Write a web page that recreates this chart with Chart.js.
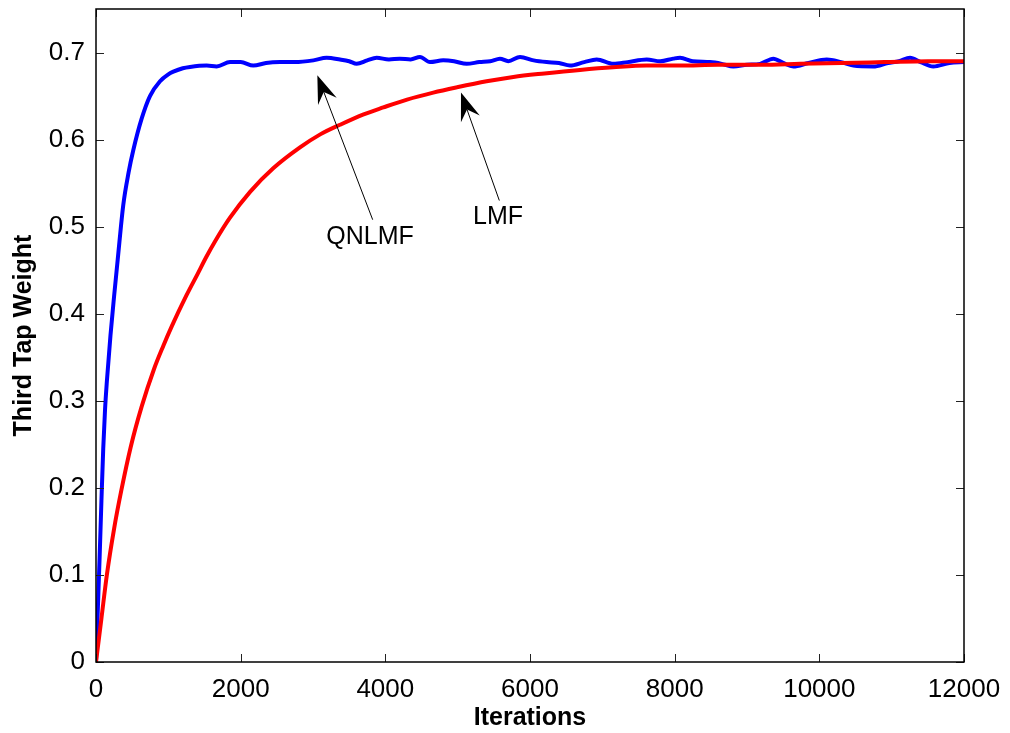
<!DOCTYPE html>
<html>
<head>
<meta charset="utf-8">
<title>Third Tap Weight</title>
<script src="https://cdn.jsdelivr.net/npm/chart.js@4/dist/chart.umd.min.js"></script>
<style>
    html, body {
        margin: 0;
        padding: 0;
        background: #ffffff;
    }
    #wrap {
        width: 1010px;
        height: 733px;
    }
</style>
</head>
<body>
<div id="wrap">
    <canvas id="tapChart" width="1010" height="733"></canvas>
</div>
<script>

// QNLMF (blue)
const qnlmfIter = [
    0, 25, 50, 75, 100, 125, 150, 200, 250, 300, 377, 450, 516, 631, 746, 885,
    1000, 1069, 1200, 1300, 1530, 1668, 1853, 2000, 2175, 2350, 2544, 2750,
    3005, 3189, 3373, 3500, 3604, 3750, 3880, 4050, 4200, 4350, 4479, 4617,
    4800, 4950, 5125, 5300, 5450, 5585, 5700, 5862, 6050, 6231, 6400, 6553,
    6750, 6922, 7152, 7350, 7613, 7800, 7981, 8074, 8250, 8489, 8650, 8812,
    9000, 9180, 9364, 9500, 9640, 9850, 10102, 10300, 10470, 10747, 10950,
    11100, 11254, 11400, 11576, 11800, 12000
];

const qnlmfWeight = [
    0, 0.06, 0.12, 0.185, 0.245, 0.29, 0.322, 0.375, 0.42, 0.462, 0.525, 0.562, 0.588, 0.624, 0.650, 0.667,
    0.675, 0.678, 0.682, 0.6835, 0.685, 0.684, 0.689, 0.689, 0.685, 0.688, 0.689, 0.689,
    0.691, 0.694, 0.692, 0.690, 0.687, 0.691, 0.694, 0.692, 0.693, 0.692, 0.695, 0.689,
    0.691, 0.690, 0.687, 0.689, 0.690, 0.693, 0.690, 0.695, 0.691, 0.689, 0.688, 0.685,
    0.689, 0.692, 0.687, 0.689, 0.692, 0.690, 0.693, 0.694, 0.690, 0.689, 0.687, 0.684,
    0.686, 0.687, 0.693, 0.688, 0.684, 0.688, 0.692, 0.689, 0.685, 0.684, 0.688,
    0.690, 0.694, 0.689, 0.684, 0.688, 0.689
];

// LMF (red)
const lmfIter = [
    0, 75, 150, 250, 350, 480, 630, 800, 930, 1050, 1250, 1400, 1530, 1645,
    1850, 2130, 2450, 2820, 3100, 3373, 3700, 3972, 4300, 4663, 4986, 5400,
    5770, 6200, 6691, 7150, 7613, 8074, 8600, 9200, 9733, 10300, 10900, 11500, 12000
];

const lmfWeight = [
    0, 0.05, 0.10, 0.153, 0.197, 0.247, 0.293, 0.336, 0.363, 0.386, 0.421, 0.445, 0.466, 0.483,
    0.510, 0.540, 0.567, 0.591, 0.606, 0.617, 0.629, 0.637, 0.646, 0.654, 0.660, 0.667,
    0.672, 0.676, 0.680, 0.683, 0.685, 0.685, 0.686, 0.686, 0.687, 0.688, 0.689, 0.690, 0.690
];

const xTicks = [0, 2000, 4000, 6000, 8000, 10000, 12000];
const yTicks = [0, 0.1, 0.2, 0.3, 0.4, 0.5, 0.6, 0.7];

const FONT = "'Liberation Sans', Arial, Helvetica, sans-serif";

function toPoints(xs, ys) {
    return xs.map((x, i) => ({ x: x, y: ys[i] }));
}

// box around the plot, inward tick marks and the arrow labels
const matlabAxes = {

    id: 'matlabAxes',

    afterDatasetsDraw(chart, args, opts) {

        const ctx = chart.ctx;
        const area = chart.chartArea;
        const xs = chart.scales.x;
        const ys = chart.scales.y;

        ctx.save();

        // ticks, pointing into the plot, on all four sides
        ctx.strokeStyle = '#222222';
        ctx.lineWidth = 1;
        ctx.beginPath();

        xTicks.forEach(v => {
            const px = Math.round(xs.getPixelForValue(v)) + 0.5;
            ctx.moveTo(px, area.bottom);
            ctx.lineTo(px, area.bottom - 8);
            ctx.moveTo(px, area.top);
            ctx.lineTo(px, area.top + 8);
        });

        yTicks.forEach(v => {
            const py = Math.round(ys.getPixelForValue(v)) + 0.5;
            ctx.moveTo(area.left, py);
            ctx.lineTo(area.left + 8, py);
            ctx.moveTo(area.right, py);
            ctx.lineTo(area.right - 8, py);
        });

        ctx.stroke();

        // frame
        ctx.strokeStyle = '#000000';
        ctx.lineWidth = 1.5;
        ctx.strokeRect(area.left, area.top, area.right - area.left, area.bottom - area.top);

        // arrows with text
        opts.arrows.forEach(a => {

            const tipX = xs.getPixelForValue(a.tip[0]);
            const tipY = ys.getPixelForValue(a.tip[1]);
            const tailX = xs.getPixelForValue(a.tail[0]);
            const tailY = ys.getPixelForValue(a.tail[1]);

            const ang = Math.atan2(tipY - tailY, tipX - tailX);
            const len = 28;
            const half = 10;
            const notch = 18;

            ctx.strokeStyle = '#000000';
            ctx.lineWidth = 1;
            ctx.beginPath();
            ctx.moveTo(tailX, tailY);
            ctx.lineTo(tipX - Math.cos(ang) * notch, tipY - Math.sin(ang) * notch);
            ctx.stroke();

            const bx = tipX - Math.cos(ang) * len;
            const by = tipY - Math.sin(ang) * len;
            const nx = -Math.sin(ang);
            const ny = Math.cos(ang);

            ctx.fillStyle = '#000000';
            ctx.beginPath();
            ctx.moveTo(tipX, tipY);
            ctx.lineTo(bx + nx * half, by + ny * half);
            ctx.lineTo(tipX - Math.cos(ang) * notch, tipY - Math.sin(ang) * notch);
            ctx.lineTo(bx - nx * half, by - ny * half);
            ctx.closePath();
            ctx.fill();

            ctx.font = '25px ' + FONT;
            ctx.textAlign = 'center';
            ctx.textBaseline = 'middle';
            ctx.fillText(
                a.text,
                xs.getPixelForValue(a.label[0]),
                ys.getPixelForValue(a.label[1])
            );
        });

        ctx.restore();
    }
};

const canvas = document.getElementById('tapChart');

new Chart(
    canvas,
    {

        type: 'line',

        data: {

            datasets: [
                {
                    label: 'LMF',
                    data: toPoints(lmfIter, lmfWeight),
                    borderColor: '#ff0000',
                    borderWidth: 4,
                    pointRadius: 0,
                    cubicInterpolationMode: 'monotone',
                    borderJoinStyle: 'round',
                    fill: false
                },
                {
                    label: 'QNLMF',
                    data: toPoints(qnlmfIter, qnlmfWeight),
                    borderColor: '#0000ff',
                    borderWidth: 4,
                    pointRadius: 0,
                    cubicInterpolationMode: 'monotone',
                    borderJoinStyle: 'round',
                    fill: false
                }
            ]
        },

        options: {

            responsive: false,

            animation: false,

            layout: {
                padding: { left: 0, top: 9, right: 46, bottom: 0 }
            },

            plugins: {

                legend: { display: false },

                tooltip: { enabled: false },

                matlabAxes: {
                    arrows: [
                        { text: 'QNLMF', tip: [3060, 0.674], tail: [3825, 0.508], label: [3788, 0.488] },
                        { text: 'LMF', tip: [5046, 0.654], tail: [5576, 0.530], label: [5558, 0.511] }
                    ]
                }
            },

            scales: {

                x: {
                    type: 'linear',
                    min: 0,
                    max: 12000,
                    afterBuildTicks: scale => {
                        scale.ticks = xTicks.map(v => ({ value: v }));
                    },
                    afterFit: scale => {
                        scale.height = 71;
                        scale.paddingLeft = 0;
                        scale.paddingRight = 0;
                    },
                    grid: { display: false, drawTicks: false },
                    border: { display: false },
                    ticks: {
                        color: '#000000',
                        padding: 12,
                        maxRotation: 0,
                        font: { family: FONT, size: 26 },
                        callback: v => String(v)
                    },
                    title: {
                        display: true,
                        text: 'Iterations',
                        color: '#000000',
                        padding: { top: 0, bottom: 0 },
                        font: { family: FONT, size: 25, weight: 'bold' }
                    }
                },

                y: {
                    type: 'linear',
                    min: 0,
                    max: 0.75,
                    afterBuildTicks: scale => {
                        scale.ticks = yTicks.map(v => ({ value: v }));
                    },
                    afterFit: scale => {
                        scale.width = 96;
                        scale.paddingTop = 0;
                        scale.paddingBottom = 0;
                    },
                    grid: { display: false, drawTicks: false },
                    border: { display: false },
                    ticks: {
                        color: '#000000',
                        padding: 11,
                        font: { family: FONT, size: 26 },
                        callback: v => String(Math.round(v * 10) / 10)
                    },
                    title: {
                        display: true,
                        text: 'Third Tap Weight',
                        color: '#000000',
                        padding: { top: 9, bottom: 0 },
                        font: { family: FONT, size: 25, weight: 'bold' }
                    }
                }
            }
        },

        plugins: [matlabAxes]
    }
);
</script>
</body>
</html>
